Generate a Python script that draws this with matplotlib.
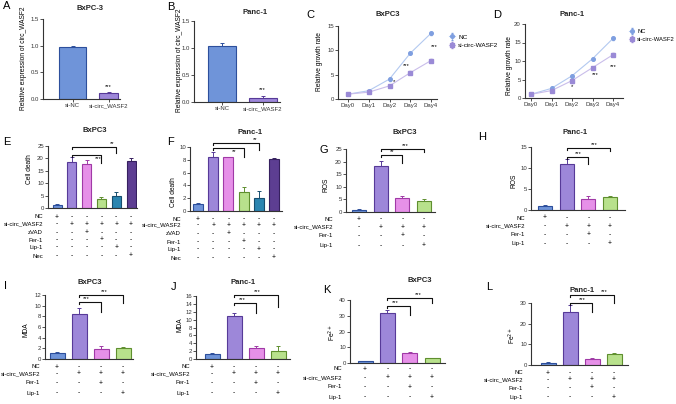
import matplotlib
matplotlib.use('Agg')
import matplotlib.pyplot as plt
from matplotlib import transforms

# ---------------- data ----------------
ab_groups = ['si-NC', 'si-circ_WASF2']
a_means = [0.98, 0.11]
a_errs = [0.02, 0.02]
b_means = [1.03, 0.07]
b_errs = [0.07, 0.04]

days = ['Day0', 'Day1', 'Day2', 'Day3', 'Day4']
series_names = ['NC', 'si-circ-WASF2']
c_nc = [1.0, 1.7, 4.1, 9.4, 13.5]
c_nc_err = [0.1, 0.2, 0.3, 0.2, 0.3]
c_si = [1.0, 1.4, 2.7, 5.4, 7.9]
c_si_err = [0.1, 0.2, 0.2, 0.3, 0.3]
c_sig = ['*', '***', '***']
d_nc = [1.0, 2.6, 6.0, 10.6, 16.1]
d_nc_err = [0.1, 0.2, 0.2, 0.3, 0.4]
d_si = [1.0, 2.0, 4.7, 8.2, 11.7]
d_si_err = [0.1, 0.3, 0.6, 0.3, 0.4]
d_sig = ['*', '***', '***']

ef_rows = ['NC', 'si-circ_WASF2', 'zVAD', 'Fer-1', 'Lip-1', 'Nec']
ef_table = [['+', '-', '-', '-', '-', '-'],
            ['-', '+', '+', '+', '+', '+'],
            ['-', '-', '+', '-', '-', '-'],
            ['-', '-', '-', '+', '-', '-'],
            ['-', '-', '-', '-', '+', '-'],
            ['-', '-', '-', '-', '-', '+']]
e_means = [1.1, 18.7, 17.9, 3.7, 4.9, 18.9]
e_errs = [0.5, 1.8, 1.6, 0.9, 1.6, 1.2]
e_sig = ['***', '**']
f_means = [1.1, 8.5, 8.4, 3.0, 2.1, 8.1]
f_errs = [0.2, 0.7, 0.1, 0.7, 1.0, 0.25]
f_sig = ['**', '**']

gl_rows = ['NC', 'si-circ_WASF2', 'Fer-1', 'Lip-1']
gl_table = [['+', '-', '-', '-'],
            ['-', '+', '+', '+'],
            ['-', '-', '+', '-'],
            ['-', '-', '-', '+']]
g_means = [0.8, 18.2, 5.7, 4.5]
g_errs = [0.3, 1.9, 0.8, 0.8]
g_sig = ['**', '***']
h_means = [1.0, 11.0, 2.7, 3.2]
h_errs = [0.1, 1.1, 0.7, 0.2]
h_sig = ['***', '***']
i_means = [1.1, 8.4, 1.8, 2.1]
i_errs = [0.25, 1.1, 0.7, 0.2]
i_sig = ['***', '***']
j_means = [1.2, 10.9, 2.7, 2.1]
j_errs = [0.35, 0.9, 0.7, 1.2]
j_sig = ['***', '***']
k_means = [1.1, 31.5, 6.4, 3.0]
k_errs = [0.4, 1.9, 0.4, 0.4]
k_sig = ['***', '***']
l_means = [1.0, 25.5, 3.1, 5.3]
l_errs = [0.5, 3.7, 0.3, 0.5]
l_sig = ['***', '***']

# ---------------- style ----------------
BLUE = ('#6f94d9', '#2d4f9c')
PURPLE = ('#9d87d9', '#573a98')
PINK = ('#e690e8', '#a03aa6')
GREEN = ('#b8e18c', '#5f8f2f')
TEAL = ('#2b85b0', '#174e6e')
DPURP = ('#5d3e92', '#36205f')
AXC = '#333333'

W, H = 676, 404
plt.rcParams['font.family'] = ['Liberation Sans', 'DejaVu Sans']
fig = plt.figure(figsize=(W / 100, H / 100), dpi=100)

TICK_FS = 4.3
LAB_FS = 4.8
TITLE_FS = 5.5
LETTER_FS = 8


def add_ax(box):
    x0, x1, ytop, ybot = box
    return fig.add_axes([x0 / W, 1 - ybot / H, (x1 - x0) / W, (ybot - ytop) / H])


def base_style(ax, ymax, ystep, fmt):
    ax.set_ylim(0, ymax)
    for s in ['top', 'right']:
        ax.spines[s].set_visible(False)
    for s in ['left', 'bottom']:
        ax.spines[s].set_linewidth(0.8)
        ax.spines[s].set_color(AXC)
    ticks = [ystep * k for k in range(int(round(ymax / ystep)) + 1)]
    ax.set_yticks(ticks)
    ax.set_yticklabels([fmt.format(t) for t in ticks])
    ax.tick_params(axis='both', length=2, width=0.6, labelsize=TICK_FS, pad=1, colors=AXC)
    ax.patch.set_alpha(0)


def label_at(ax, box, text, pos):
    x0, x1, ytop, ybot = box
    ax.set_ylabel(text, fontsize=LAB_FS)
    ax.yaxis.set_label_coords((pos[0] - x0) / (x1 - x0), (ybot - pos[1]) / (ybot - ytop))


def fig_text(px, py, s, **kw):
    fig.text(px / W, 1 - py / H, s, **kw)


def bar_panel(means, errs, colors, box, centers, width_px, ymax, ystep, fmt,
              ylabel, ylab_pos, title, title_pos, letter, letter_pos,
              rows=None, table=None, row_y=None, row_x=None,
              sig=None, brackets=None, xticklabels=None):
    x0, x1, ytop, ybot = box
    ax = add_ax(box)
    n = len(means)
    c0, c1 = centers
    step = (c1 - c0) / (n - 1)
    ax.set_xlim(-(c0 - x0) / step, (n - 1) + (x1 - c1) / step)
    base_style(ax, ymax, ystep, fmt)
    xs = list(range(n))
    if not isinstance(width_px, (list, tuple)):
        width_px = [width_px] * n
    widths = [w / step for w in width_px]
    for xi, m, e, col, w in zip(xs, means, errs, colors, widths):
        ax.bar(xi, m, width=w, color=col[0], edgecolor=col[1], linewidth=0.8, zorder=2)
        ax.errorbar([xi], [m], yerr=[[0], [e]], fmt='none', ecolor=col[1],
                    elinewidth=0.7, capsize=1.6, capthick=0.7, zorder=3)
    if xticklabels is not None:
        ax.set_xticks(xs)
        ax.set_xticklabels(xticklabels, fontsize=TICK_FS)
    else:
        ax.set_xticks([])
    label_at(ax, box, ylabel, ylab_pos)
    fig_text(title_pos[0], title_pos[1], title, fontsize=TITLE_FS, fontweight='bold',
             ha='center', va='center', color='#222')
    fig_text(letter_pos[0], letter_pos[1], letter, fontsize=LETTER_FS, ha='left', va='center')
    if rows is not None:
        tr = transforms.blended_transform_factory(ax.transData, fig.transFigure)
        for r, (name, vals) in enumerate(zip(rows, table)):
            fig_text(row_x, row_y[r], name, fontsize=TICK_FS, ha='right', va='center')
            for xi, v in zip(xs, vals):
                ax.text(xi, 1 - row_y[r] / H, v, transform=tr, fontsize=TICK_FS + 0.5,
                        ha='center', va='center', clip_on=False)
    if brackets is not None:
        ppx = ymax / (ybot - ytop)
        for lab, (jj, yl, yd, frac, above) in zip(sig, brackets):
            ax.plot([1, 1, jj, jj], [yl - 2 * ppx, yl, yl, yd], color='#111', lw=0.8,
                    clip_on=False, zorder=4)
            lx = 1 + frac * (jj - 1)
            ly = yl + (3.5 * ppx if above else -3.5 * ppx)
            ax.text(lx, ly, lab, fontsize=4.2, ha='center', va='center', clip_on=False)
    return ax


# ---------------- A & B ----------------
axa = bar_panel(a_means, a_errs, [BLUE, PURPLE], (43, 120, 19, 99), (72.5, 108.5), [27, 19],
                1.5, 0.5, '{:.1f}', 'Relative expression of circ_WASF2', (27, 58),
                'BxPC-3', (90, 8), 'A', (3, 6), xticklabels=ab_groups)
axb = bar_panel(b_means, b_errs, [BLUE, PURPLE], (194, 280, 21, 102), (222, 262.5), 28,
                1.5, 0.5, '{:.1f}', 'Relative expression of circ_WASF2', (183, 60),
                'Panc-1', (255, 12), 'B', (167, 7), xticklabels=ab_groups)
axa.text(1, a_means[1] + a_errs[1] + 0.1, '***', fontsize=4.2, ha='center', va='center')
axb.text(1, b_means[1] + b_errs[1] + 0.12, '***', fontsize=4.2, ha='center', va='center')


# ---------------- C & D ----------------
def line_panel(nc, nc_err, si, si_err, sig, sig_pos, box, centers, ymax, ystep,
               ylab_pos, title, title_pos, letter, letter_pos, leg_pos, leg_fs):
    x0, x1, ytop, ybot = box
    ax = add_ax(box)
    c0, c1 = centers
    step = (c1 - c0) / 4
    ax.set_xlim(-(c0 - x0) / step, 4 + (x1 - c1) / step)
    base_style(ax, ymax, ystep, '{:.0f}')
    xs = list(range(len(days)))
    ax.errorbar(xs, nc, yerr=nc_err, color='#b3c9f0', ecolor='#7f9fe0', marker='o', ms=2.6,
                mfc='#7f9fe0', mec='#7f9fe0', lw=0.8, elinewidth=0.5, capsize=1, label=series_names[0])
    ax.errorbar(xs, si, yerr=si_err, color='#c9bdea', ecolor='#9a8ad6', marker='s', ms=2.4,
                mfc='#9a8ad6', mec='#9a8ad6', lw=0.8, elinewidth=0.5, capsize=1, label=series_names[1])
    ax.set_xticks(xs)
    ax.set_xticklabels(days, fontsize=TICK_FS)
    label_at(ax, box, 'Relative growth rate', ylab_pos)
    fig_text(title_pos[0], title_pos[1], title, fontsize=TITLE_FS, fontweight='bold',
             ha='center', va='center', color='#222')
    fig_text(letter_pos[0], letter_pos[1], letter, fontsize=LETTER_FS, ha='left', va='center')
    for lab, (xd, yd) in zip(sig, sig_pos):
        ax.text(xd, yd, lab, fontsize=4.2, ha='center', va='center')
    ax.legend(loc='upper left', bbox_to_anchor=(leg_pos[0] / W, 1 - leg_pos[1] / H),
              bbox_transform=fig.transFigure, frameon=False, fontsize=leg_fs,
              handlelength=0.9, handletextpad=0.5, labelspacing=0.5, borderpad=0)
    return ax


line_panel(c_nc, c_nc_err, c_si, c_si_err, c_sig, [(2.2, 3.6), (2.8, 6.8), (4.15, 10.8)],
           (338, 437, 26, 99), (348, 431), 15, 5, (323, 62), 'BxPC3', (388, 14), 'C', (306, 15),
           (446, 31), 4.6)
line_panel(d_nc, d_nc_err, d_si, d_si_err, d_sig, [(2.0, 3.1), (3.15, 6.3), (4.0, 8.5)],
           (525, 623, 24, 98), (531, 613), 20, 5, (513, 66), 'Panc-1', (572, 14), 'D', (493, 15),
           (626, 26), 4.2)

# ---------------- E & F ----------------
ef_colors = [BLUE, PURPLE, PINK, GREEN, TEAL, DPURP]
bar_panel(e_means, e_errs, ef_colors, (48, 137, 146, 208), (57, 131), 9, 25, 5, '{:.0f}',
          'Cell death', (33, 169), 'BxPC3', (95, 130), 'E', (3, 142),
          ef_rows, ef_table, [217, 224, 233, 240, 247, 256], 43,
          e_sig, [(3, 21.4, 18.1, 0.89, False), (4, 24.7, 22.2, 0.92, True)])
bar_panel(f_means, f_errs, ef_colors, (190, 282, 147, 211), (198, 274), 10, 10, 2, '{:.0f}',
          'Cell death', (177, 192), 'Panc-1', (250, 133), 'F', (167, 142),
          ef_rows, ef_table, [219, 225, 234, 242, 249, 258], 181,
          f_sig, [(3, 9.8, 8.5, 0.7, False), (4, 10.6, 9.5, 0.93, True)])

# ---------------- G & H ----------------
gl_colors = [BLUE, PURPLE, PINK, GREEN]
bar_panel(g_means, g_errs, gl_colors, (346, 435, 149, 212), (359, 424), 14, 25, 5, '{:.0f}',
          'ROS', (330, 185), 'BxPC3', (405, 133), 'G', (320, 150),
          gl_rows, gl_table, [219, 227, 236, 246], 333,
          g_sig, [(2, 22.6, 19.4, 0.55, True), (3, 24.9, 24.0, 0.56, True)])
bar_panel(h_means, h_errs, gl_colors, (531, 625, 147, 210), (545, 610), 14, 15, 5, '{:.0f}',
          'ROS', (517, 181), 'Panc-1', (575, 133), 'H', (478, 137),
          gl_rows, gl_table, [218, 226, 235, 244], 525,
          h_sig, [(2, 12.6, 11.0, 0.55, True), (3, 14.8, 14.0, 0.63, True)])

# ---------------- I & J ----------------
bar_panel(i_means, i_errs, gl_colors, (45, 133, 295, 359), (57, 123), 15, 12, 2, '{:.0f}',
          'MDA', (29, 330), 'BxPC3', (90, 282), 'I', (4, 286),
          gl_rows, gl_table, [367, 374, 383, 393], 40,
          i_sig, [(2, 10.7, 8.9, 0.33, True), (3, 12.0, 10.5, 0.57, True)])
bar_panel(j_means, j_errs, gl_colors, (196, 290, 296, 359), (212, 278), 15, 16, 2, '{:.0f}',
          'MDA', (183, 325), 'Panc-1', (243, 283), 'J', (171, 287),
          gl_rows, gl_table, [367, 374, 383, 393], 190,
          j_sig, [(2, 14.1, 11.8, 0.38, True), (3, 16.2, 13.3, 0.53, True)])

# ---------------- K & L ----------------
bar_panel(k_means, k_errs, gl_colors, (350, 445, 300, 363), (365, 432), 15, 40, 10, '{:.0f}',
          'Fe$^{2+}$', (338, 332), 'BxPC3', (420, 281), 'K', (323, 290),
          gl_rows, gl_table, [369, 378, 387, 397], 342,
          k_sig, [(2, 36.4, 30.5, 0.34, True), (3, 41.1, 38.3, 0.69, True)])
bar_panel(l_means, l_errs, gl_colors, (531, 628, 303, 365), (548, 614), 15, 30, 10, '{:.0f}',
          'Fe$^{2+}$', (518, 335), 'Panc-1', (582, 290), 'L', (486, 287),
          gl_rows, gl_table, [373, 380, 388, 397], 523,
          l_sig, [(2, 30.1, 25.8, 0.56, True), (3, 33.8, 30.0, 0.79, True)])

fig.savefig('out.png', dpi=100)
